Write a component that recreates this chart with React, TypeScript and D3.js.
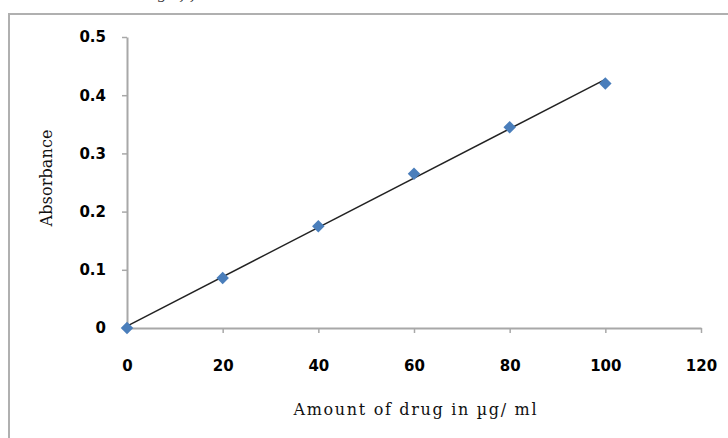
import { useEffect, useRef } from "react";
import * as d3 from "d3";

// concentration (µg/ml) vs absorbance
const amounts = [0, 20, 40, 60, 80, 100];
const absorbance = [0, 0.086, 0.175, 0.265, 0.345, 0.42];
const xTicks = [0, 20, 40, 60, 80, 100, 120];
const yTicks = [0, 0.1, 0.2, 0.3, 0.4, 0.5];
const xTitle = "Amount of drug in µg/ ml";
const yTitle = "Absorbance";
const captionTail = "ing of f";

const W = 728;
const H = 438;

const App = () => {
  const svgRef = useRef<SVGSVGElement>(null);

  useEffect(() => {
    const svg = d3.select(svgRef.current);
    svg.selectAll("*").remove();

    const x = d3.scaleLinear().domain([0, 120]).range([127, 701]);
    const y = d3.scaleLinear().domain([0, 0.5]).range([328, 37]);

    // caption above the frame, cut by the top edge as in the source
    svg
      .append("text")
      .attr("x", 143)
      .attr("y", -1)
      .attr("font-family", "'DejaVu Serif', serif")
      .attr("font-style", "italic")
      .attr("font-size", 15)
      .attr("fill", "#333")
      .text(captionTail);

    // chart frame
    svg
      .append("rect")
      .attr("x", 9)
      .attr("y", 14)
      .attr("width", W)
      .attr("height", H)
      .attr("fill", "white")
      .attr("stroke", "#b0b0b0")
      .attr("stroke-width", 2);

    const styleAxis = (g: any) => {
      g.selectAll("text")
        .attr("font-family", "'DejaVu Sans', sans-serif")
        .attr("font-weight", "bold")
        .attr("font-size", 15)
        .attr("fill", "#000");
      g.selectAll("line").attr("stroke", "#a8a8a8").attr("stroke-width", 1.5);
      g.select(".domain").attr("stroke", "#a8a8a8").attr("stroke-width", 2);
    };

    svg
      .append("g")
      .attr("transform", `translate(${x(0)},0)`)
      .call(
        d3
          .axisLeft(y)
          .tickValues(yTicks)
          .tickSize(5)
          .tickSizeOuter(0)
          .tickPadding(16)
          .tickFormat((d: any) => (d === 0 ? "0" : d3.format(".1f")(d)))
      )
      .call(styleAxis);

    svg
      .append("g")
      .attr("transform", `translate(0,${y(0)})`)
      .call(
        d3
          .axisBottom(x)
          .tickValues(xTicks)
          .tickSize(5)
          .tickSizeOuter(0)
          .tickPadding(27)
          .tickFormat(d3.format("d"))
      )
      .call(styleAxis);

    // least squares trendline
    const mx = d3.mean(amounts)!;
    const my = d3.mean(absorbance)!;
    const sxy = d3.sum(amounts, (a, i) => (a - mx) * (absorbance[i] - my));
    const sxx = d3.sum(amounts, (a) => (a - mx) ** 2);
    const slope = sxy / sxx;
    const icpt = my - slope * mx;
    const ends = [d3.min(amounts)!, d3.max(amounts)!];

    svg
      .append("path")
      .attr("fill", "none")
      .attr("stroke", "#222")
      .attr("stroke-width", 1.4)
      .attr(
        "d",
        d3
          .line<number>()
          .x((a) => x(a))
          .y((a) => y(icpt + slope * a))(ends)
      );

    svg
      .append("g")
      .selectAll("path")
      .data(amounts)
      .join("path")
      .attr("d", d3.symbol(d3.symbolSquare, 78)())
      .attr(
        "transform",
        (a, i) => `translate(${x(a)},${y(absorbance[i])}) rotate(45)`
      )
      .attr("fill", "#4a7ebb");

    svg
      .append("text")
      .attr("x", 415)
      .attr("y", 415)
      .attr("text-anchor", "middle")
      .attr("font-family", "'DejaVu Serif', serif")
      .attr("font-size", 16)
      .attr("textLength", 243)
      .attr("lengthAdjust", "spacing")
      .attr("fill", "#111")
      .text(xTitle);

    svg
      .append("text")
      .attr("transform", `translate(52,178) rotate(-90)`)
      .attr("text-anchor", "middle")
      .attr("font-family", "'DejaVu Serif', serif")
      .attr("font-size", 16)
      .attr("textLength", 97)
      .attr("lengthAdjust", "spacing")
      .attr("fill", "#111")
      .text(yTitle);
  }, []);

  return (
    <svg
      ref={svgRef}
      width={W}
      height={H}
      style={{ position: "absolute", left: 0, top: 0, background: "white" }}
    ></svg>
  );
};

export default App;
